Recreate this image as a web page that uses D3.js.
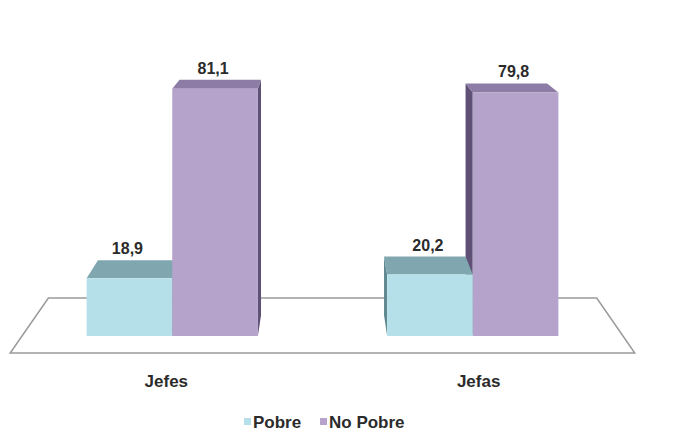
<!DOCTYPE html>
<html>
<head>
<meta charset="utf-8">
<script src="https://cdn.jsdelivr.net/npm/d3@7"></script>
<style>
  body { margin: 0; background: #fff; }
  svg { display: block; font-family: "Liberation Sans", Arial, sans-serif; }
</style>
</head>
<body>
<div id="grafico"></div>
<script>
// data
var categorias = ["Jefes", "Jefas"];
var series = ["Pobre", "No Pobre"];
var pobre = [18.9, 20.2];
var noPobre = [81.1, 79.8];

var width = 679, height = 433;

var colores = {
  "Pobre":    { front: "#b6e0e9", top: "#80a7af", side: "#5f8891" },
  "No Pobre": { front: "#b5a3cc", top: "#8d7ca5", side: "#5e5175" }
};

var svg = d3.select("#grafico").append("svg")
  .attr("width", width)
  .attr("height", height);

var x0 = d3.scaleBand().domain(categorias).range([22, 623])
  .paddingInner(0.43).paddingOuter(0.215);
var x1 = d3.scaleBand().domain(series).range([0, x0.bandwidth()]);
var y = d3.scaleLinear().domain([0, 100]).range([336, 31]);

// simple perspective toward a vanishing point
var vp = [323, -98];
var depth = 0.048, floorFront = -0.0392, floorBack = 0.0876;
function proj(px, py, t) {
  return [px + t * (vp[0] - px), py + t * (vp[1] - py)];
}

// floor
var fx = x0.range(), base = y(0);
var floor = [proj(fx[0], base, floorFront), proj(fx[1], base, floorFront),
             proj(fx[1], base, floorBack), proj(fx[0], base, floorBack)];
svg.append("polygon")
  .attr("points", floor.map(function(p) { return p.join(","); }).join(" "))
  .attr("fill", "#fff")
  .attr("stroke", "#9a9a9a")
  .attr("stroke-width", 1.5);

// bars
var bars = [];
categorias.forEach(function(c, i) {
  bars.push({ cat: c, serie: "Pobre", value: pobre[i] });
  bars.push({ cat: c, serie: "No Pobre", value: noPobre[i] });
});
bars.forEach(function(d) {
  d.xa = x0(d.cat) + x1(d.serie);
  d.xb = d.xa + x1.bandwidth();
  d.yt = y(d.value);
  d.dist = Math.abs((d.xa + d.xb) / 2 - vp[0]);
});
bars.sort(function(a, b) { return b.dist - a.dist; });

function poly(pts) { return pts.map(function(p) { return p.join(","); }).join(" "); }

var g = svg.selectAll(".barra").data(bars).enter().append("g").attr("class", "barra");

g.append("polygon")
  .attr("points", function(d) {
    var sx = d.xb < vp[0] ? d.xb : d.xa;
    return poly([proj(sx, d.yt, 0), proj(sx, base, 0), proj(sx, base, depth), proj(sx, d.yt, depth)]);
  })
  .attr("fill", function(d) { return colores[d.serie].side; });

g.append("polygon")
  .attr("points", function(d) {
    return poly([proj(d.xa, d.yt, 0), proj(d.xb, d.yt, 0), proj(d.xb, d.yt, depth), proj(d.xa, d.yt, depth)]);
  })
  .attr("fill", function(d) { return colores[d.serie].top; });

g.append("rect")
  .attr("x", function(d) { return d.xa; })
  .attr("y", function(d) { return d.yt; })
  .attr("width", x1.bandwidth())
  .attr("height", function(d) { return base - d.yt; })
  .attr("fill", function(d) { return colores[d.serie].front; });

// value labels
svg.selectAll(".valor").data(bars).enter().append("text")
  .attr("class", "valor")
  .attr("x", function(d) { return (d.xa + d.xb) / 2 - 2; })
  .attr("y", function(d) { return proj(d.xa, d.yt, depth)[1] - 6; })
  .attr("text-anchor", "middle")
  .attr("font-size", 16)
  .attr("font-weight", "bold")
  .attr("fill", "#2b2b2b")
  .text(function(d) { return d3.format(".1f")(d.value).replace(".", ","); });

// category labels
svg.selectAll(".cat").data(categorias).enter().append("text")
  .attr("class", "cat")
  .attr("x", function(c) { return proj(x0(c) + x0.bandwidth() / 2, base, floorFront)[0]; })
  .attr("y", 387)
  .attr("text-anchor", "middle")
  .attr("font-size", 17)
  .attr("font-weight", "bold")
  .attr("fill", "#2b2b2b")
  .text(function(c) { return c; });

// legend
var leyenda = svg.append("g").attr("transform", "translate(244,428)");
var lx = [0, 76];
series.forEach(function(s, i) {
  var li = leyenda.append("g").attr("transform", "translate(" + lx[i] + ",0)");
  li.append("rect").attr("x", 0).attr("y", -10).attr("width", 7).attr("height", 7)
    .attr("fill", colores[s].front);
  li.append("text").attr("x", 9).attr("y", 0)
    .attr("font-size", 17).attr("font-weight", "bold").attr("fill", "#2b2b2b")
    .text(s);
});
</script>
</body>
</html>
